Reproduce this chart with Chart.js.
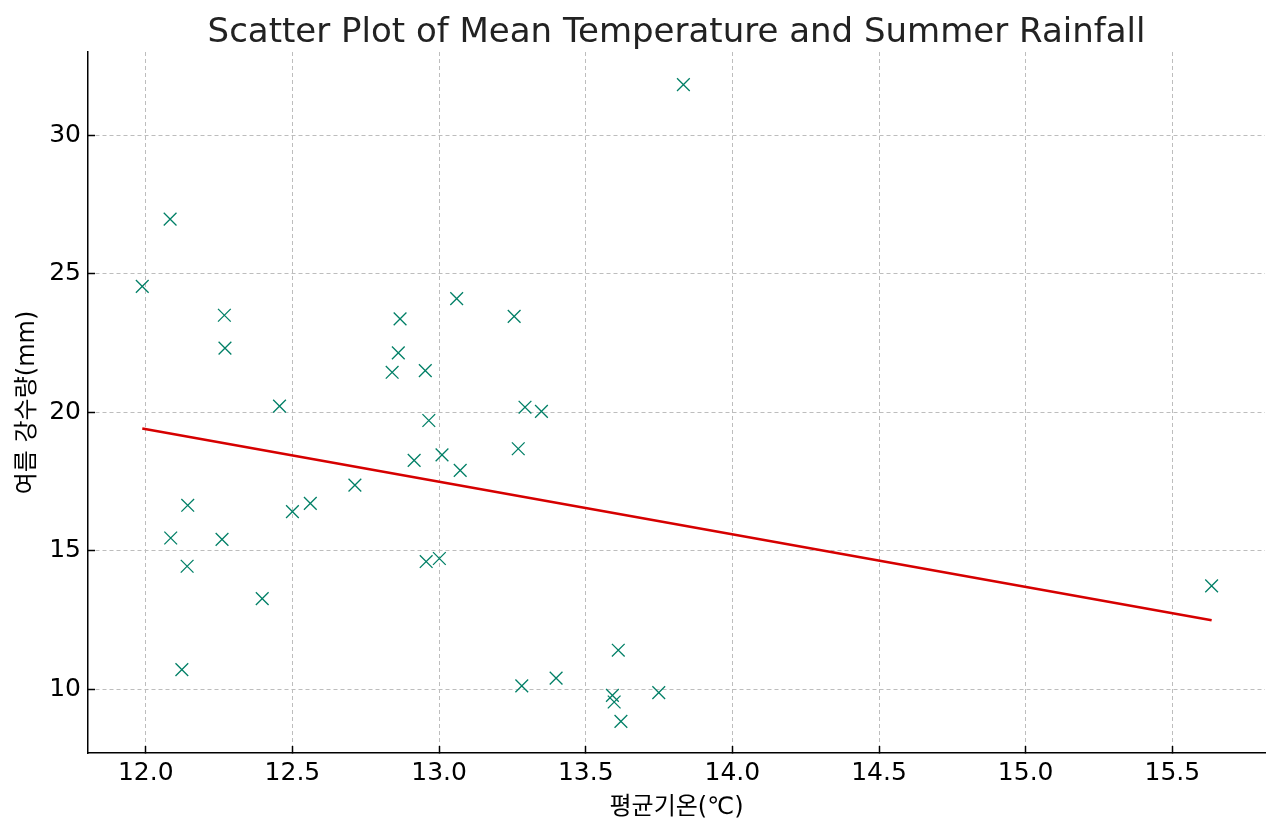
<!DOCTYPE html>
<html lang="ko">
<head>
    <meta charset="UTF-8">
    <title>Scatter Plot of Mean Temperature and Summer Rainfall</title>
    <script src="https://cdn.jsdelivr.net/npm/chart.js"></script>
    <style>
        html, body { margin: 0; padding: 0; background: #fff; }
        canvas { display: block; }
    </style>
</head>
<body>
    <canvas id="grafica" width="1280" height="835"></canvas>

    <script>
        // 평균기온 (x) / 여름 강수량 (y)
        const meanTemp = [
            11.988, 12.083, 12.268, 12.270, 12.456, 12.143, 12.085, 12.260, 12.141, 12.397,
            12.123, 12.500, 12.561, 12.713, 12.840, 12.861, 12.867, 12.953, 12.965, 12.915,
            13.010, 13.072, 13.060, 12.956, 13.001, 13.256, 13.293, 13.349, 13.270, 13.282,
            13.399, 13.611, 13.591, 13.597, 13.620, 13.749, 13.833, 15.634
        ];
        const summerRain = [
            24.54, 26.97, 23.50, 22.31, 20.22, 16.64, 15.46, 15.41, 14.44, 13.27,
            10.71, 16.41, 16.71, 17.37, 21.44, 22.14, 23.37, 21.50, 19.70, 18.26,
            18.46, 17.90, 24.10, 14.61, 14.72, 23.46, 20.18, 20.03, 18.68, 10.12,
            10.40, 11.41, 9.78, 9.54, 8.84, 9.88, 31.82, 13.73
        ];

        // trend line end points
        const trendX = [11.988, 15.634];
        const trendY = [19.41, 12.49];

        const xTicks = [12.0, 12.5, 13.0, 13.5, 14.0, 14.5, 15.0, 15.5];
        const yTicks = [10, 15, 20, 25, 30];

        const fontFamily = "'DejaVu Sans', 'Noto Sans CJK KR', sans-serif";

        const puntos = meanTemp.map((t, i) => ({ x: t, y: summerRain[i] }));
        const linea = trendX.map((t, i) => ({ x: t, y: trendY[i] }));

        const ejeComun = {
            grid: {
                color: '#bdbdbd',
                lineWidth: 1,
                tickLength: -7,      // negative -> tick marks point into the plot
                tickColor: '#000',
                tickWidth: 1.5
            },
            border: { display: true, color: '#000', width: 1.5, dash: [4, 3] },
            ticks: {
                color: '#000',
                font: { family: fontFamily, size: 25 }
            }
        };

        // centre the title over the plot area, like matplotlib does
        const centrarTitulo = {
            id: 'centrarTitulo',
            afterLayout(chart) {
                const t = chart.titleBlock;
                const a = chart.chartArea;
                if (!t) return;
                t.left = a.left;
                t.right = a.right;
                t.width = a.right - a.left;
            }
        };

        const ctx = document.getElementById('grafica').getContext('2d');
        new Chart(ctx, {
            type: 'scatter',
            data: {
                datasets: [
                    {
                        type: 'line',
                        data: linea,
                        borderColor: 'rgb(214, 0, 0)',
                        borderWidth: 2.6,
                        pointRadius: 0,
                        fill: false
                    },
                    {
                        data: puntos,
                        pointStyle: 'crossRot',
                        pointRadius: 9,
                        pointBorderWidth: 1.3,
                        borderColor: '#007f66',
                        backgroundColor: '#007f66'
                    }
                ]
            },
            plugins: [centrarTitulo],
            options: {
                responsive: false,
                animation: false,
                layout: { padding: { left: 0, right: 15, top: 0, bottom: 0 } },
                plugins: {
                    legend: { display: false },
                    tooltip: { enabled: false },
                    title: {
                        display: true,
                        text: 'Scatter Plot of Mean Temperature and Summer Rainfall',
                        color: '#222',
                        font: { family: fontFamily, size: 34, weight: 'normal', lineHeight: 1.0 },
                        padding: { top: 16, bottom: 2 }
                    }
                },
                scales: {
                    x: {
                        ...ejeComun,
                        type: 'linear',
                        min: 11.803,
                        max: 15.816,
                        afterBuildTicks: s => { s.ticks = xTicks.map(v => ({ value: v })); },
                        afterFit: s => { s.height = 82; },
                        ticks: { ...ejeComun.ticks, padding: 12, callback: v => v.toFixed(1) },
                        title: {
                            display: true,
                            text: '평균기온(℃)',
                            color: '#000',
                            font: { family: fontFamily, size: 24 },
                            padding: { top: 0, bottom: 13 }
                        }
                    },
                    y: {
                        ...ejeComun,
                        type: 'linear',
                        min: 7.70,
                        max: 33.0,
                        afterBuildTicks: s => { s.ticks = yTicks.map(v => ({ value: v })); },
                        afterFit: s => { s.width = 88; },
                        ticks: { ...ejeComun.ticks, padding: 14, callback: v => String(v) },
                        title: {
                            display: true,
                            text: '여름 강수량(mm)',
                            color: '#000',
                            font: { family: fontFamily, size: 24 },
                            padding: { top: 13, bottom: 0 }
                        }
                    }
                }
            }
        });
    </script>
</body>
</html>
